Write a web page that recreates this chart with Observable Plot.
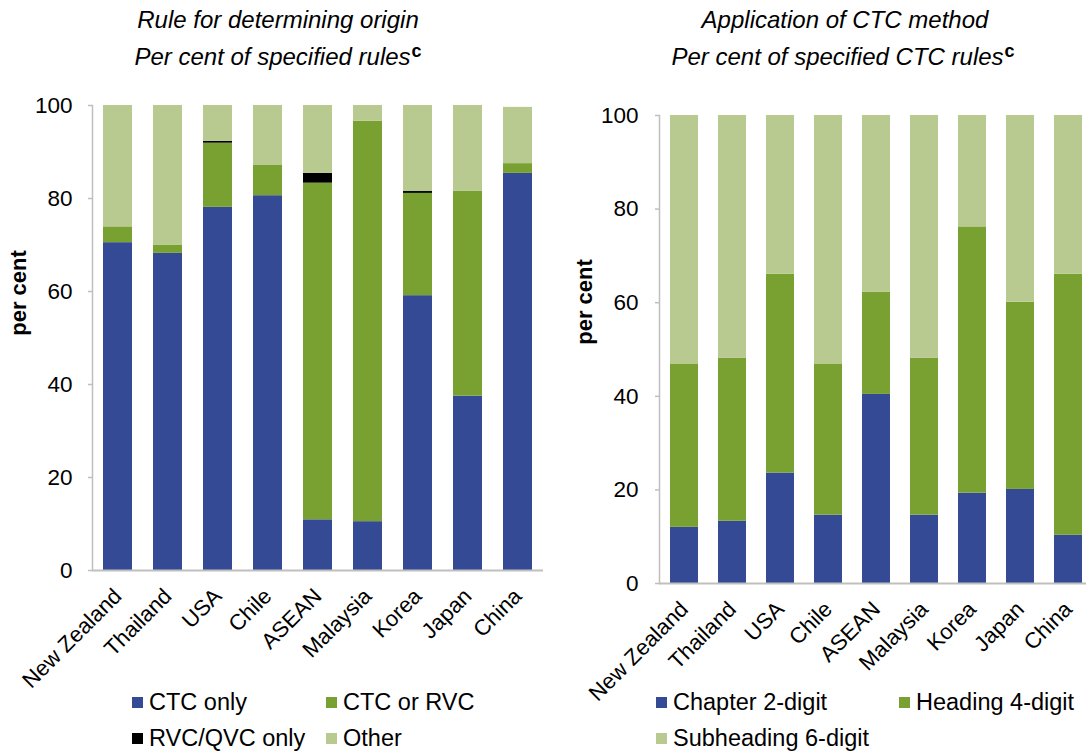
<!DOCTYPE html>
<html><head><meta charset="utf-8">
<script src="https://cdn.jsdelivr.net/npm/d3@7"></script>
<script src="https://cdn.jsdelivr.net/npm/@observablehq/plot@0.6"></script>
<style>
html,body{margin:0;padding:0;width:1086px;height:752px;overflow:hidden;background:#fff;font-family:"Liberation Sans",Arial,sans-serif;color:#000;}
#root{position:relative;width:1086px;height:752px;}
.chart{position:absolute;top:0;}
.title{position:absolute;font-style:italic;font-size:24px;line-height:28px;white-space:nowrap;transform:translateX(-50%);}
.title b{font-style:normal;font-size:18px;position:relative;top:-8px;margin-left:1px;}
.ylab{position:absolute;font-weight:bold;font-size:22px;line-height:26px;white-space:nowrap;transform:translate(-50%,-50%) rotate(-90deg);}
.leg{position:absolute;font-size:23.5px;line-height:28px;white-space:nowrap;display:flex;align-items:center;}
.sw{display:inline-block;width:11px;height:11px;margin-right:6px;}
</style>
</head><body>
<div id="root"></div>
<script>
// ---- data ----
const countries = ["New Zealand","Thailand","USA","Chile","ASEAN","Malaysia","Korea","Japan","China"];
const yTicks = [0, 20, 40, 60, 80, 100];

// Left panel: rule for determining origin (per cent of specified rules)
const leftSeries = ["CTC only", "CTC or RVC", "RVC/QVC only", "Other"];
const leftColors = ["#354A94", "#79A132", "#000000", "#B8CA8F"];
const ctcOnly    = [70.5, 68.2, 78.1, 80.6, 10.9, 10.5, 59.1, 37.5, 85.4];
const ctcOrRvc   = [3.4, 1.8, 13.8, 6.5, 72.4, 86.1, 22.0, 44.1, 2.1];
const rvcQvcOnly = [0, 0, 0.4, 0, 2.1, 0, 0.4, 0, 0];
const other      = [26.1, 30.0, 7.7, 12.9, 14.6, 3.4, 18.5, 18.4, 12.1];

// Right panel: application of CTC method (per cent of specified CTC rules)
const rightSeries = ["Chapter 2-digit", "Heading 4-digit", "Subheading 6-digit"];
const rightColors = ["#354A94", "#79A132", "#B8CA8F"];
const chapter    = [12.0, 13.3, 23.6, 14.6, 40.4, 14.6, 19.3, 20.1, 10.3];
const heading    = [34.8, 34.8, 42.5, 32.2, 21.8, 33.5, 56.9, 40.0, 55.8];
const subheading = [53.2, 51.9, 33.9, 53.2, 37.8, 51.9, 23.8, 39.9, 33.9];

function tidy(series, arrays) {
  const out = [];
  series.forEach((s, i) => arrays[i].forEach((v, j) => out.push({country: countries[j], series: s, value: v})));
  return out;
}
const leftData = tidy(leftSeries, [ctcOnly, ctcOrRvc, rvcQvcOnly, other]);
const rightData = tidy(rightSeries, [chapter, heading, subheading]);

const FONT = "'Liberation Sans', Arial, sans-serif";
const AXIS = "#BFBFBF";

function panel(data, series, colors, o) {
  return Plot.plot({
    width: o.width, height: 700,
    marginLeft: o.ml, marginRight: o.mr, marginTop: o.mt, marginBottom: o.mb,
    style: {fontFamily: FONT, fontSize: "22px", color: "#000", background: "transparent", overflow: "visible"},
    x: {domain: countries, paddingInner: 0.42, paddingOuter: 0.21, label: null, axis: null},
    y: {domain: [0, 100], label: null, axis: null},
    color: {domain: series, range: colors},
    marks: [
      Plot.barY(data, {x: "country", y: "value", fill: "series", order: null}),
      Plot.frame({anchor: "left", stroke: AXIS, strokeWidth: 1.5}),
      Plot.ruleY([0], {stroke: AXIS, strokeWidth: 2}),
      Plot.axisY({ticks: yTicks, tickSize: 4, tickPadding: o.tp, stroke: AXIS, strokeWidth: 1.5, fill: "#000", fontSize: 22.5, label: null}),
      Plot.axisX({tickSize: 0, tickRotate: -45, tickPadding: 22, fill: "#000", fontSize: 22, label: null})
    ]
  });
}

const root = document.getElementById("root");
const left = panel(leftData, leftSeries, leftColors, {width: 560, ml: 92, mr: 17, mt: 105, mb: 130, tp: 16});
left.classList.add("chart"); left.style.left = "0px";
root.appendChild(left);
const right = panel(rightData, rightSeries, rightColors, {width: 540, ml: 99, mr: 7, mt: 115, mb: 117, tp: 17});
right.classList.add("chart"); right.style.left = "560px";
root.appendChild(right);

function addDiv(cls, html, x, y) {
  const d = document.createElement("div");
  d.className = cls; d.innerHTML = html;
  d.style.left = x + "px"; d.style.top = y + "px";
  root.appendChild(d);
  return d;
}
addDiv("title", "Rule for determining origin", 278, 6);
addDiv("title", "Per cent of specified rules<b>c</b>", 278, 43);
addDiv("title", "Application of CTC method", 845, 6);
addDiv("title", "Per cent of specified CTC rules<b>c</b>", 843, 43);
addDiv("ylab", "per cent", 19, 293);
addDiv("ylab", "per cent", 585, 302);

function legendItem(label, color, x, yc) {
  addDiv("leg", `<span class="sw" style="background:${color}"></span>${label}`, x, yc - 14);
}
legendItem(leftSeries[0], leftColors[0], 132, 702);
legendItem(leftSeries[1], leftColors[1], 326, 702);
legendItem(leftSeries[2], leftColors[2], 132, 738);
legendItem(leftSeries[3], leftColors[3], 326, 738);
legendItem(rightSeries[0], rightColors[0], 656, 702);
legendItem(rightSeries[1], rightColors[1], 899, 702);
legendItem(rightSeries[2], rightColors[2], 656, 738);
</script>
</body></html>
